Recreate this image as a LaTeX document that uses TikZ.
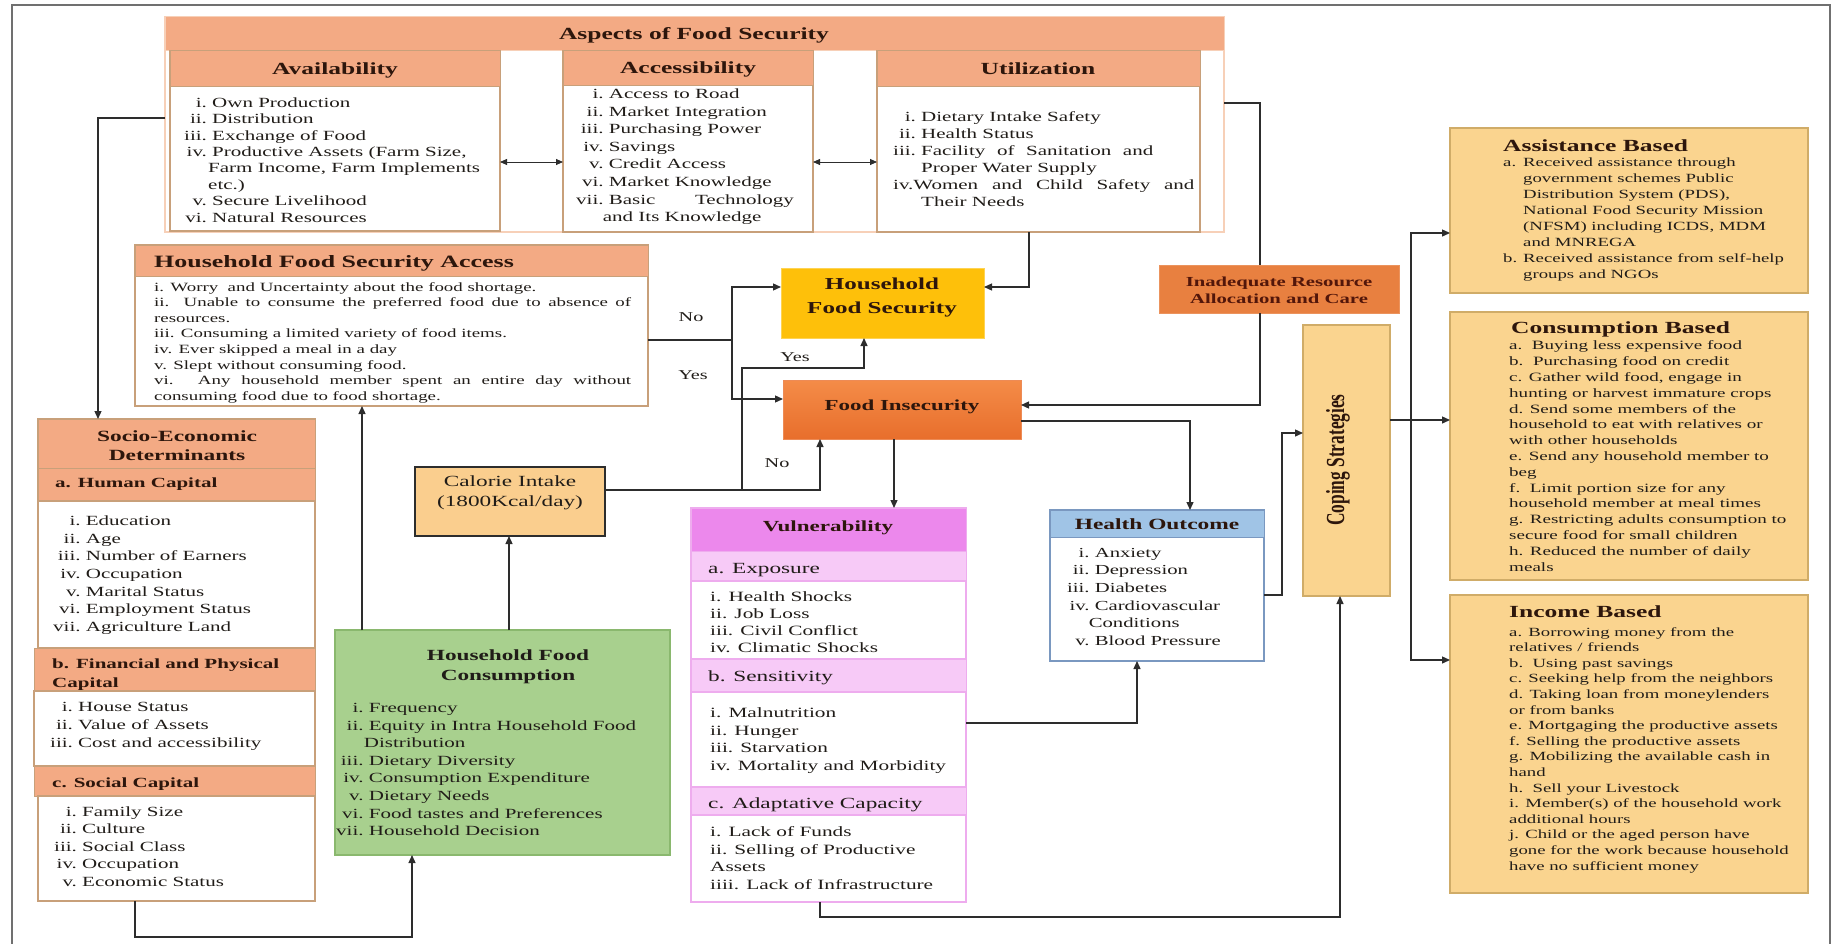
\documentclass[tikz,border=0pt]{standalone}
\usepackage{fontspec}
\setmainfont[FakeStretch=1.5]{Liberation Serif}
\newfontfamily\condserif[FakeStretch=0.667]{Liberation Serif}
\usetikzlibrary{arrows.meta}

\definecolor{salm}{RGB}{243,170,132}
\definecolor{tanb}{RGB}{200,160,122}
\definecolor{peach}{RGB}{247,208,184}
\definecolor{gold}{RGB}{254,192,10}
\definecolor{orngA}{RGB}{244,140,72}
\definecolor{orngB}{RGB}{232,110,44}
\definecolor{orng2}{RGB}{232,128,64}
\definecolor{lorng}{RGB}{250,212,143}
\definecolor{lorngb}{RGB}{208,172,104}
\definecolor{calf}{RGB}{250,206,142}
\definecolor{grn}{RGB}{168,208,142}
\definecolor{grnb}{RGB}{138,184,110}
\definecolor{mag}{RGB}{236,136,236}
\definecolor{pinklt}{RGB}{247,202,247}
\definecolor{pinkb}{RGB}{238,172,238}
\definecolor{blu}{RGB}{160,196,230}
\definecolor{blub}{RGB}{122,152,192}
\definecolor{ink}{RGB}{32,28,24}
\definecolor{headc}{RGB}{45,22,12}
\definecolor{maroon}{RGB}{82,22,10}
\definecolor{wire}{RGB}{45,45,45}
\definecolor{framec}{RGB}{112,112,112}

\newcommand\fsz[2]{\fontsize{#1}{#2}\selectfont}
% box from top-left (x1,y1) to bottom-right (x2,y2)
\newcommand\mkbox[6]{%
  \pgfmathsetmacro\mkW{#5-#3}\pgfmathsetmacro\mkH{#6-#4}%
  \node[#2, minimum width=\mkW pt, minimum height=\mkH pt, anchor=north west,
        inner sep=0pt, outer sep=0pt] (#1) at (#3,#4) {};}
\newcommand\rtab[1]{\begin{tabular}{@{}r@{\ }l@{}}#1\end{tabular}}
\newcommand\ltab[1]{\begin{tabular}{@{}l@{}}#1\end{tabular}}

\tikzset{
  every node/.style={text=ink},
  conn/.style={draw=wire, line width=1.3pt},
  arr/.style={conn, -{Triangle[length=8pt,width=7pt]}},
  dbl/.style={draw=wire, line width=0.8pt,
    {Triangle[length=7pt,width=6pt]}-{Triangle[length=7pt,width=6pt]}},
  txt/.style={anchor=north west, inner sep=0pt},
  hdr/.style={anchor=base, inner sep=0pt, text=headc, font=\fsz{17}{20}\bfseries},
  salbox/.style={fill=salm, draw=tanb, line width=1pt},
  whbox/.style={fill=white, draw=tanb, line width=1.2pt},
  pkbox/.style={fill=pinklt, draw=pinkb, line width=1pt},
  pwbox/.style={fill=white, draw=pinkb, line width=1.2pt},
  lobox/.style={fill=lorng, draw=lorngb, line width=1.2pt},
  lbl/.style={inner sep=0pt, font=\fsz{13.5}{16}},
}

\begin{document}
\begin{tikzpicture}[x=1pt,y=-1pt]
\useasboundingbox (0,0) rectangle (1835,944);

% outer frame
\draw[framec, line width=2.2pt] (12,944) -- (12,5) -- (1830,5) -- (1830,944);

% ---------- Aspects of Food Security ----------
\mkbox{aspects}{fill=white, draw=peach, line width=1.8pt}{165}{17}{1224}{232}
\mkbox{aspectsH}{fill=salm, draw=peach, line width=1pt}{165}{17}{1224}{51}
\node[hdr] (aspectsT) at (694,39.6) {Aspects of Food Security};

\mkbox{avail}{whbox}{170}{51}{500}{231}
\mkbox{availH}{salbox}{170}{51}{500}{87}
\node[hdr] (availT) at (335,74.6) {Availability};
\node[txt, font=\fsz{14}{16.4}] (availL) at (184,95.7) {\rtab{i. & Own Production\\ ii. & Distribution\\ iii. & Exchange of Food\\ iv. & Productive Assets (Farm Size,\\ & \hspace{-4pt}Farm Income, Farm Implements\\ & \hspace{-4pt}etc.)\\ v. & Secure Livelihood\\ vi. & Natural Resources}};

\mkbox{access}{whbox}{563}{51}{813}{232}
\mkbox{accessH}{salbox}{563}{51}{813}{86}
\node[hdr] (accessT) at (688,74) {Accessibility};
\node[txt, font=\fsz{14}{17.6}] (accessL) at (576,86) {\rtab{i. & Access to Road\\ ii. & Market Integration\\ iii. & Purchasing Power\\ iv. & Savings\\ v. & Credit Access\\ vi. & Market Knowledge\\ vii. & \makebox[185pt][s]{Basic Technology}\\ & \hspace{-6pt}and Its Knowledge}};

\mkbox{util}{whbox}{877}{51}{1200}{232}
\mkbox{utilH}{salbox}{877}{51}{1200}{87}
\node[hdr] (utilT) at (1038,74.6) {Utilization};
\node[txt, font=\fsz{14}{17}] (utilL) at (893,109.3) {\rtab{i. & Dietary Intake Safety\\ ii. & Health Status\\ iii. & \makebox[232pt][s]{Facility of Sanitation and}\\ & Proper Water Supply\\ \multicolumn{2}{@{}l@{}}{iv.\makebox[281pt][s]{Women and Child Safety and}}\\ & Their Needs}};

% ---------- Household Food Security Access ----------
\mkbox{hfsa}{whbox}{135}{245}{648}{406}
\mkbox{hfsaH}{salbox}{135}{245}{648}{276}
\node[anchor=base west, inner sep=0pt, text=headc, font=\fsz{17.3}{20}\bfseries] (hfsaT) at (154,267.7) {Household Food Security Access};
\node[txt, font=\fsz{12.6}{15.6}] (hfsaL) at (154,279.9) {\ltab{i. Worry\ \ and Uncertainty about the food shortage.\\ \makebox[477pt][s]{ii. Unable to consume the preferred food due to absence of}\\ resources.\\ iii. Consuming a limited variety of food items.\\ iv. Ever skipped a meal in a day\\ v. Slept without consuming food.\\ \makebox[477pt][s]{vi. Any household member spent an entire day without}\\ consuming food due to food shortage.}};

% ---------- Socio-Economic Determinants ----------
\mkbox{socio}{whbox}{38}{419}{315}{901}
\mkbox{socioH}{salbox}{38}{419}{315}{468}
\node[align=center, inner sep=0pt, text=headc, font=\fsz{15.6}{19}\bfseries] (socioT) at (177,446) {Socio-Economic\\Determinants};
\mkbox{socioA}{salbox}{38}{468}{315}{501}
\node[anchor=base west, inner sep=0pt, text=headc, font=\fsz{14}{17}\bfseries] (socioAT) at (55,487.6) {a. Human Capital};
\mkbox{socioAb}{whbox}{38}{501}{315}{648}
\node[txt, font=\fsz{14}{17.7}] (socioAL) at (53,512.8) {\rtab{i. & Education\\ ii. & Age\\ iii. & Number of Earners\\ iv. & Occupation\\ v. & Marital Status\\ vi. & Employment Status\\ vii. & Agriculture Land}};
\mkbox{socioB}{salbox}{34}{648}{315}{691}
\node[txt, text=headc, font=\fsz{14}{19}\bfseries] (socioBT) at (52,655.3) {\ltab{b. Financial and Physical\\ Capital}};
\mkbox{socioBb}{whbox}{34}{691}{315}{766}
\node[txt, font=\fsz{14}{18}] (socioBL) at (50,698.6) {\rtab{i. & House Status\\ ii. & Value of Assets\\ iii. & Cost and accessibility}};
\mkbox{socioC}{salbox}{34}{766}{315}{796}
\node[anchor=base west, inner sep=0pt, text=headc, font=\fsz{14}{17}\bfseries] (socioCT) at (52,787.6) {c. Social Capital};
\mkbox{socioCb}{whbox}{38}{796}{315}{901}
\node[txt, font=\fsz{14}{17.5}] (socioCL) at (54,804) {\rtab{i. & Family Size\\ ii. & Culture\\ iii. & Social Class\\ iv. & Occupation\\ v. & Economic Status}};

% ---------- Calorie intake and consumption ----------
\mkbox{cal}{fill=calf, draw=wire, line width=1.2pt}{415}{467}{605}{536}
\node[align=center, inner sep=0pt, font=\fsz{15.5}{20}] (calT) at (510,493) {Calorie Intake\\(1800Kcal/day)};

\mkbox{hfc}{fill=grn, draw=grnb, line width=1.2pt}{335}{630}{670}{855}
\node[align=center, inner sep=0pt, font=\fsz{15.5}{20}\bfseries] (hfcT) at (508,667) {Household Food\\Consumption};
\node[txt, font=\fsz{14}{17.6}] (hfcL) at (336,699.9) {\rtab{i. & Frequency\\ ii. & Equity in Intra Household Food\\ & \hspace{-5pt}Distribution\\ iii. & Dietary Diversity\\ iv. & Consumption Expenditure\\ v. & Dietary Needs\\ vi. & Food tastes and Preferences\\ vii. & Household Decision}};

% ---------- Outcomes ----------
\mkbox{hfs}{fill=gold, draw=gold!70!white, line width=1pt}{781}{268}{984}{338}
\node[align=center, inner sep=0pt, text=headc, font=\fsz{16.7}{24}\bfseries] (hfsT) at (882,297.5) {Household\\Food Security};

\mkbox{fi}{top color=orngA, bottom color=orngB, draw=orngB!80!white, line width=1pt}{783}{380}{1021}{439}
\node[anchor=base, inner sep=0pt, text=headc, font=\fsz{15.3}{18}\bfseries] (fiT) at (902,410) {Food Insecurity};

\mkbox{inad}{fill=orng2, draw=orng2!85!white, line width=1pt}{1159}{265}{1399}{313}
\node[align=center, inner sep=0pt, text=maroon, font=\fsz{13.8}{17}\bfseries] (inadT) at (1279,290) {Inadequate Resource\\Allocation and Care};

% ---------- Vulnerability ----------
\mkbox{vul}{pwbox}{691}{508}{966}{902}
\mkbox{vulH}{fill=mag, draw=pinkb, line width=1pt}{691}{508}{966}{551}
\node[anchor=base, inner sep=0pt, text=headc, font=\fsz{15.4}{18}\bfseries] (vulT) at (828,531) {Vulnerability};
\mkbox{vulA}{pkbox}{691}{551}{966}{581}
\node[anchor=base west, inner sep=0pt, font=\fsz{15.5}{18}] (vulAT) at (708,573) {a. Exposure};
\mkbox{vulexp}{pwbox}{691}{581}{966}{659}
\node[txt, font=\fsz{14.2}{17}] (vulAL) at (710,589.4) {\ltab{i. Health Shocks\\ ii. Job Loss\\ iii. Civil Conflict\\ iv. Climatic Shocks}};
\mkbox{vulB}{pkbox}{691}{659}{966}{692}
\node[anchor=base west, inner sep=0pt, font=\fsz{15.5}{18}] (vulBT) at (708,681) {b. Sensitivity};
\mkbox{vulsens}{pwbox}{691}{692}{966}{787}
\node[txt, font=\fsz{14.2}{17.7}] (vulBL) at (710,704.9) {\ltab{i. Malnutrition\\ ii. Hunger\\ iii. Starvation\\ iv. Mortality and Morbidity}};
\mkbox{vulC}{pkbox}{691}{787}{966}{815}
\node[anchor=base west, inner sep=0pt, font=\fsz{15.5}{18}] (vulCT) at (708,808) {c. Adaptative Capacity};
\mkbox{vuladp}{pwbox}{691}{815}{966}{902}
\node[txt, font=\fsz{14.2}{17.7}] (vulCL) at (710,823.9) {\ltab{i. Lack of Funds\\ ii. Selling of Productive\\ Assets\\ iiii. Lack of Infrastructure}};

% ---------- Health outcome ----------
\mkbox{ho}{fill=white, draw=blub, line width=1.2pt}{1050}{510}{1264}{661}
\mkbox{hoH}{fill=blu, draw=blub, line width=1pt}{1050}{510}{1264}{537}
\node[anchor=base, inner sep=0pt, text=headc, font=\fsz{15.6}{18}\bfseries] (hoT) at (1157,529) {Health Outcome};
\node[txt, font=\fsz{13.8}{17.6}] (hoL) at (1067,544.8) {\rtab{i. & Anxiety\\ ii. & Depression\\ iii. & Diabetes\\ iv. & Cardiovascular\\ & \hspace{-6pt}Conditions\\ v. & Blood Pressure}};

% ---------- Coping strategies ----------
\mkbox{cop}{lobox}{1303}{325}{1390}{596}
\node[rotate=90, inner sep=0pt, text=headc, font=\condserif\bfseries\fsz{26}{30}] (copT) at (1338,460) {Coping Strategies};

\mkbox{assist}{lobox}{1450}{128}{1808}{293}
\node[anchor=base west, inner sep=0pt, text=headc, font=\fsz{17}{20}\bfseries] (assistT) at (1503,151.6) {Assistance Based};
\node[txt, font=\fsz{12.5}{16}] (assistL) at (1503,155.5) {\begin{tabular}{@{}l@{}l@{}}\makebox[20pt][l]{a.} & Received assistance through\\ & government schemes Public\\ & Distribution System (PDS),\\ & National Food Security Mission\\ & (NFSM) including ICDS, MDM\\ & and MNREGA\\ \makebox[20pt][l]{b.} & Received assistance from self-help\\ & groups and NGOs\end{tabular}};

\mkbox{cons}{lobox}{1450}{312}{1808}{580}
\node[anchor=base west, inner sep=0pt, text=headc, font=\fsz{17}{20}\bfseries] (consT) at (1511,333.6) {Consumption Based};
\node[txt, font=\fsz{12.7}{15.8}] (consL) at (1509,338.7) {\ltab{a.\ \ Buying less expensive food\\ b.\ \ Purchasing food on credit\\ c. Gather wild food, engage in\\ hunting or harvest immature crops\\ d. Send some members of the\\ household to eat with relatives or\\ with other households\\ e. Send any household member to\\ beg\\ f.\ \ Limit portion size for any\\ household member at meal times\\ g. Restricting adults consumption to\\ secure food for small children\\ h. Reduced the number of daily\\ meals}};

\mkbox{inc}{lobox}{1450}{595}{1808}{893}
\node[anchor=base west, inner sep=0pt, text=headc, font=\fsz{17}{20}\bfseries] (incT) at (1509,617.6) {Income Based};
\node[txt, font=\fsz{12.5}{15.6}] (incL) at (1509,624.9) {\ltab{a. Borrowing money from the\\ relatives / friends\\ b.\ \ Using past savings\\ c. Seeking help from the neighbors\\ d. Taking loan from moneylenders\\ or from banks\\ e. Mortgaging the productive assets\\ f. Selling the productive assets\\ g. Mobilizing the available cash in\\ hand\\ h.\ \ Sell your Livestock\\ i. Member(s) of the household work\\ additional hours\\ j. Child or the aged person have\\ gone for the work because household\\ have no sufficient money}};

% ---------- labels ----------
\node[lbl] (no1) at (691,317) {No};
\node[lbl] (yes1) at (693,375) {Yes};
\node[lbl] (yes2) at (795,357) {Yes};
\node[lbl] (no2) at (777,463) {No};

% ---------- bend points ----------
\coordinate (dy) at (0,162);
\coordinate (s1) at (98,118);
\coordinate (u1) at (1029,287);
\coordinate (r1) at (1260,103);
\coordinate (r2) at (1260,405);
\coordinate (j1) at (732,340);
\coordinate (j2) at (732,287);
\coordinate (j3) at (732,399);
\coordinate (k1) at (742,490);
\coordinate (k2) at (820,490);
\coordinate (k3) at (742,368);
\coordinate (k4) at (864,368);
\coordinate (v0) at (894,0);
\coordinate (h1) at (1190,421);
\coordinate (h2) at (1137,723);
\coordinate (c1) at (1282,595);
\coordinate (c2) at (1282,433);
\coordinate (b1) at (820,917);
\coordinate (b2) at (1340,917);
\coordinate (t0) at (1411,420);
\coordinate (t1) at (1411,233);
\coordinate (t3) at (1411,660);
\coordinate (g1) at (362,0);
\coordinate (g2) at (509,0);
\coordinate (e1) at (135,937);
\coordinate (e2) at (412,937);

% ---------- connectors ----------
\draw[dbl] (avail.east |- dy) -- (access.west |- dy);
\draw[dbl] (access.east |- dy) -- (util.west |- dy);

\draw[arr] (aspects.west |- s1) -- (s1) -- (s1 |- socio.north);
\draw[arr] (u1 |- aspects.south) -- (u1) -- (hfs.east |- u1);
\draw[conn] (aspects.east |- r1) -- (r1) -- (r1 |- inad.north);
\draw[arr] (r1 |- inad.south) -- (r2) -- (fi.east |- r2);

\draw[conn] (hfsa.east |- j1) -- (j1);
\draw[arr] (j1) -- (j2) -- (hfs.west |- j2);
\draw[arr] (j1) -- (j3) -- (fi.west |- j3);

\draw[arr] (cal.east |- k1) -- (k2) -- (k2 |- fi.south);
\draw[arr] (k1) -- (k3) -- (k4) -- (k4 |- hfs.south);

\draw[arr] (v0 |- fi.south) -- (v0 |- vul.north);
\draw[arr] (fi.east |- h1) -- (h1) -- (h1 |- ho.north);
\draw[arr] (vulsens.east |- h2) -- (h2) -- (h2 |- ho.south);
\draw[arr] (ho.east |- c1) -- (c1) -- (c2) -- (cop.west |- c2);
\draw[arr] (b1 |- vul.south) -- (b1) -- (b2) -- (b2 |- cop.south);

\draw[conn] (cop.east |- t0) -- (t0);
\draw[arr] (t0) -- (t1) -- (assist.west |- t1);
\draw[arr] (t0) -- (cons.west |- t0);
\draw[arr] (t0) -- (t3) -- (inc.west |- t3);

\draw[arr] (g1 |- hfc.north) -- (g1 |- hfsa.south);
\draw[arr] (g2 |- hfc.north) -- (g2 |- cal.south);
\draw[arr] (e1 |- socio.south) -- (e1) -- (e2) -- (e2 |- hfc.south);

\end{tikzpicture}
\end{document}
